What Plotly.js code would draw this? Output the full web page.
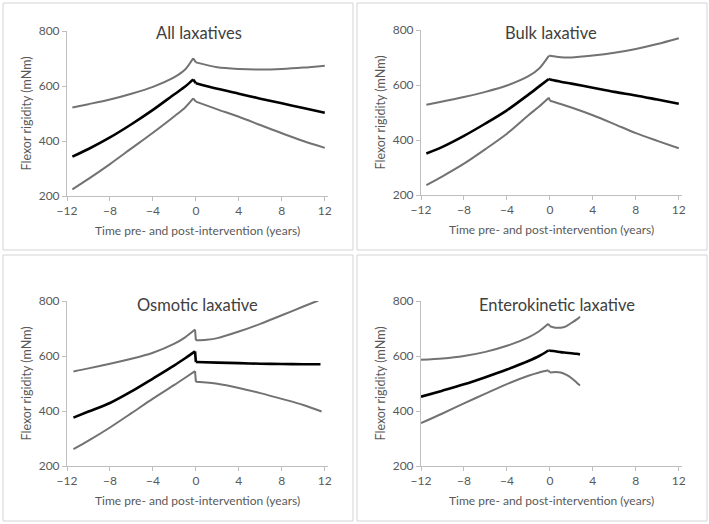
<!DOCTYPE html>
<html>
<head>
<meta charset="utf-8">
<script src="https://cdn.plot.ly/plotly-3.0.1.min.js"></script>
<style>html,body{margin:0;padding:0;background:#fff;}#chart{width:709px;height:524px;}</style>
</head>
<body>
<div id="chart"></div>
<script>
// ---- Data (years relative to intervention, flexor rigidity in mNm) ----
const panelTitles = ["All laxatives", "Bulk laxative", "Osmotic laxative", "Enterokinetic laxative"];
const xTickVals = [-12, -8, -4, 0, 4, 8, 12];
const yTickVals = [200, 400, 600, 800];
const xAxisTitle = "Time pre- and post-intervention (years)";
const yAxisTitle = "Flexor rigidity (mNm)";

// All laxatives (pre-intervention part, then post-intervention part)
const allXPre      = [-11.5, -10, -8, -6, -4, -2, -1, -0.25];
const allXPost     = [0, 2, 4, 6, 8, 10, 12];
const allUpperPre  = [522, 534, 551, 572, 597, 632, 660, 701];
const allUpperPost = [686, 668, 662, 660, 662, 667, 674];
const allMeanPre   = [343, 371, 413, 461, 513, 570, 598, 624];
const allMeanPost  = [610, 590, 572, 554, 537, 520, 503];
const allLowerPre  = [224, 262, 316, 373, 430, 490, 522, 555];
const allLowerPost = [543, 515, 488, 458, 428, 400, 375];

// Bulk laxative
const bulkXPre      = [-11.5, -10, -8, -6, -4, -2, -1, -0.1];
const bulkXPost     = [0, 1, 2, 4, 6, 8, 10, 12];
const bulkUpperPre  = [528, 540, 556, 575, 598, 632, 660, 706];
const bulkUpperPost = [706, 701, 700, 707, 717, 731, 749, 770];
const bulkMeanPre   = [351, 375, 415, 460, 508, 565, 595, 622];
const bulkMeanPost  = [620, 612, 605, 590, 575, 562, 547, 532];
const bulkLowerPre  = [236, 268, 314, 367, 423, 490, 522, 554];
const bulkLowerPost = [543, 531, 518, 490, 458, 425, 397, 370];

// Osmotic laxative
const osmXPre       = [-11.4, -10, -8, -6, -4, -2, -1, -0.08];
const osmUpperXPost = [0, 1, 2, 4, 6, 8, 10, 11.4];
const osmUpperPre   = [544, 555, 572, 590, 612, 645, 668, 696];
const osmUpperPost  = [657, 659, 665, 689, 717, 748, 780, 802];
const osmMeanXPost  = [0, 2, 4, 6, 8, 10, 11.6];
const osmMeanPre    = [376, 398, 429, 471, 518, 566, 592, 617];
const osmMeanPost   = [578, 576, 574, 572, 571, 570, 570];
const osmLowerXPost = [0, 2, 4, 6, 8, 10, 11.7];
const osmLowerPre   = [261, 292, 340, 392, 445, 495, 521, 545];
const osmLowerPost  = [506, 499, 484, 465, 444, 422, 398];

// Enterokinetic laxative
const entXPre      = [-12, -10, -8, -6, -4, -2, -1, -0.15];
const entXPost     = [0, 0.5, 1, 1.5, 2, 2.5, 2.8];
const entUpperPre  = [586, 591, 600, 615, 637, 668, 690, 717];
const entUpperPost = [708, 703, 703, 708, 720, 733, 743];
const entMeanPre   = [452, 474, 497, 523, 551, 582, 600, 620];
const entMeanPost  = [619, 617, 614, 612, 610, 608, 606];
const entLowerPre  = [356, 391, 428, 463, 498, 528, 540, 548];
const entLowerPost = [540, 542, 540, 532, 520, 503, 493];

// ---- Build ----
const FONT = "Lato, 'Open Sans', sans-serif";
const grey = "#727272";
const W = 709, H = 524;
const px = v => v / W;
const py = v => 1 - v / H;

const panels = [
  {series: [[allXPre, allUpperPre, allXPost, allUpperPost], [allXPre, allMeanPre, allXPost, allMeanPost], [allXPre, allLowerPre, allXPost, allLowerPost]],
   box: [3, 3, 353, 250], plot: [67, 328, 31, 196], title: [199, 33]},
  {series: [[bulkXPre, bulkUpperPre, bulkXPost, bulkUpperPost], [bulkXPre, bulkMeanPre, bulkXPost, bulkMeanPost], [bulkXPre, bulkLowerPre, bulkXPost, bulkLowerPost]],
   box: [357, 3, 707, 250], plot: [421, 682, 30, 195], title: [551, 33]},
  {series: [[osmXPre, osmUpperPre, osmUpperXPost, osmUpperPost], [osmXPre, osmMeanPre, osmMeanXPost, osmMeanPost], [osmXPre, osmLowerPre, osmLowerXPost, osmLowerPost]],
   box: [3, 255, 353, 521], plot: [67, 328, 301, 466], title: [197, 305]},
  {series: [[entXPre, entUpperPre, entXPost, entUpperPost], [entXPre, entMeanPre, entXPost, entMeanPost], [entXPre, entLowerPre, entXPost, entLowerPost]],
   box: [357, 255, 707, 521], plot: [421, 682, 301, 466], title: [557, 305]}
];

const traces = [];
const layout = {
  width: W, height: H,
  margin: {l: 0, r: 0, t: 0, b: 0},
  paper_bgcolor: "#fff", plot_bgcolor: "#fff",
  showlegend: false,
  font: {family: FONT, color: "#595959"},
  shapes: [], annotations: []
};

panels.forEach((p, i) => {
  const n = i + 1;
  const xa = "x" + (n === 1 ? "" : n), ya = "y" + (n === 1 ? "" : n);
  p.series.forEach((s, k) => {
    const line = {color: k === 1 ? "#000" : grey, width: k === 1 ? 2.6 : 2};
    const [xPre, yPre, xPost, yPost] = s;
    // pre-intervention curve
    traces.push({x: xPre, y: yPre, xaxis: xa, yaxis: ya, type: "scatter", mode: "lines",
      line: Object.assign({shape: "spline", smoothing: 0.8}, line), hoverinfo: "skip"});
    // step at the intervention
    traces.push({x: [xPre[xPre.length - 1], xPost[0]], y: [yPre[yPre.length - 1], yPost[0]],
      xaxis: xa, yaxis: ya, type: "scatter", mode: "lines", line: line, hoverinfo: "skip"});
    // post-intervention curve
    traces.push({x: xPost, y: yPost, xaxis: xa, yaxis: ya, type: "scatter", mode: "lines",
      line: Object.assign({shape: "spline", smoothing: 0.8}, line), hoverinfo: "skip"});
  });
  const axBase = {
    showline: true, linecolor: "#bfbfbf", linewidth: 1,
    ticks: "outside", ticklen: 4, tickcolor: "#bfbfbf",
    showgrid: false, zeroline: false,
    tickfont: {family: FONT, size: 12, color: "#595959"}
  };
  layout["xaxis" + (n === 1 ? "" : n)] = Object.assign({}, axBase, {
    domain: [px(p.plot[0]), px(p.plot[1])], range: [-12, 12.3],
    tickvals: xTickVals, anchor: ya
  });
  layout["yaxis" + (n === 1 ? "" : n)] = Object.assign({}, axBase, {
    domain: [py(p.plot[3]), py(p.plot[2])], range: [200, 800],
    tickvals: yTickVals, anchor: xa
  });
  layout.shapes.push({type: "rect", xref: "paper", yref: "paper",
    x0: px(p.box[0]), x1: px(p.box[2]), y0: py(p.box[3]), y1: py(p.box[1]),
    line: {color: "#d4d4d4", width: 1}, fillcolor: "rgba(0,0,0,0)"});
  layout.annotations.push({text: panelTitles[i], xref: "paper", yref: "paper",
    x: px(p.title[0]), y: py(p.title[1]), xanchor: "center", yanchor: "middle",
    showarrow: false, font: {family: FONT, size: 16.5, color: "#404040", weight: 400}});
  layout.annotations.push({text: xAxisTitle, xref: "paper", yref: "paper",
    x: px((p.plot[0] + p.plot[1]) / 2), y: py(p.plot[3] + 34), xanchor: "center", yanchor: "middle",
    showarrow: false, font: {family: FONT, size: 12, color: "#595959"}});
  layout.annotations.push({text: yAxisTitle, xref: "paper", yref: "paper",
    x: px(p.plot[0] - 41), y: py((p.plot[2] + p.plot[3]) / 2), xanchor: "center", yanchor: "middle",
    textangle: -90, showarrow: false, font: {family: FONT, size: 12.5, color: "#595959"}});
});

Plotly.newPlot("chart", traces, layout, {staticPlot: true, displayModeBar: false});
</script>
</body>
</html>
